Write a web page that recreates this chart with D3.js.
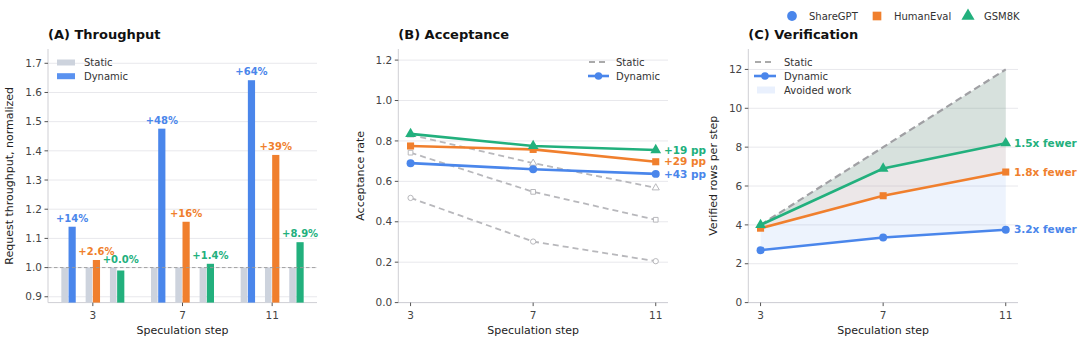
<!DOCTYPE html>
<html>
<head>
<meta charset="utf-8">
<script src="https://cdn.jsdelivr.net/npm/d3@7"></script>
<style>
  body { margin: 0; background: #fff; }
  svg { font-family: "DejaVu Sans", sans-serif; }
</style>
</head>
<body>
<div id="chart"></div>
<script>
// ---- data ----
const steps = [3, 7, 11];
const datasets = ["ShareGPT", "HumanEval", "GSM8K"];
const colors = ["#4a86eb", "#f07f2d", "#22b07d"];
const symbols = [d3.symbolCircle, d3.symbolSquare, d3.symbolTriangle];

// (A) throughput normalized to static
const throughputStatic = [[1, 1, 1], [1, 1, 1], [1, 1, 1]];
const throughputDynamic = [
  [1.14, 1.476, 1.642],   // ShareGPT
  [1.026, 1.157, 1.386],  // HumanEval
  [0.99, 1.013, 1.087]    // GSM8K
];
const throughputLabels = [
  ["+14%", "+48%", "+64%"],
  ["+2.6%", "+16%", "+39%"],
  ["+0.0%", "+1.4%", "+8.9%"]
];
const throughputTicks = [0.9, 1.0, 1.1, 1.2, 1.3, 1.4, 1.5, 1.6, 1.7];

// (B) acceptance rate
const acceptStatic = [
  [0.518, 0.302, 0.205],
  [0.742, 0.548, 0.41],
  [0.83, 0.69, 0.568]
];
const acceptDynamic = [
  [0.69, 0.66, 0.637],
  [0.775, 0.758, 0.697],
  [0.835, 0.775, 0.755]
];
const acceptLabels = ["+43 pp", "+29 pp", "+19 pp"];
const acceptTicks = [0.0, 0.2, 0.4, 0.6, 0.8, 1.0, 1.2];

// (C) verified rows per step
const verifyStatic = [4, 8, 12];
const verifyDynamic = [
  [2.7, 3.35, 3.75],
  [3.83, 5.5, 6.72],
  [4.0, 6.9, 8.2]
];
const verifyLabels = ["3.2x fewer", "1.8x fewer", "1.5x fewer"];
const verifyTicks = [0, 2, 4, 6, 8, 10, 12];

// ---- setup ----
const width = 1080, height = 344;
const svg = d3.select("#chart").append("svg")
  .attr("width", width).attr("height", height);

const plotBottom = 302.6, plotTop = 49;
const gridColor = "#e8e8ec", spineColor = "#cfcfd4", tickText = "#444";

function drawAxes(x0, x1, y, ticks, fmt, xTicks, yLabel, title, ylabX) {
  const g = svg.append("g");
  // grid
  g.selectAll(".grid").data(ticks).join("line")
    .attr("x1", x0).attr("x2", x1)
    .attr("y1", d => y(d)).attr("y2", d => y(d))
    .attr("stroke", gridColor).attr("stroke-width", 1);
  // spines
  g.append("line").attr("x1", x0).attr("x2", x0).attr("y1", plotTop).attr("y2", plotBottom)
    .attr("stroke", spineColor);
  g.append("line").attr("x1", x0).attr("x2", x1).attr("y1", plotBottom).attr("y2", plotBottom)
    .attr("stroke", spineColor);
  // y ticks
  g.selectAll(".yt").data(ticks).join("line")
    .attr("x1", x0 - 3.5).attr("x2", x0)
    .attr("y1", d => y(d)).attr("y2", d => y(d)).attr("stroke", "#555");
  g.selectAll(".yl").data(ticks).join("text")
    .attr("x", x0 - 6).attr("y", d => y(d)).attr("dy", "0.35em")
    .attr("text-anchor", "end").attr("font-size", 10.5).attr("fill", tickText)
    .text(fmt);
  // x ticks
  g.selectAll(".xt").data(xTicks).join("line")
    .attr("x1", d => d.x).attr("x2", d => d.x)
    .attr("y1", plotBottom).attr("y2", plotBottom + 3.5).attr("stroke", "#555");
  g.selectAll(".xl").data(xTicks).join("text")
    .attr("x", d => d.x).attr("y", plotBottom + 16)
    .attr("text-anchor", "middle").attr("font-size", 10.5).attr("fill", tickText)
    .text(d => d.v);
  g.append("text").attr("x", (x0 + x1) / 2).attr("y", 334)
    .attr("text-anchor", "middle").attr("font-size", 11).attr("fill", "#222")
    .text("Speculation step");
  g.append("text")
    .attr("transform", `translate(${ylabX},${(plotTop + plotBottom) / 2}) rotate(-90)`)
    .attr("text-anchor", "middle").attr("font-size", 11).attr("fill", "#222")
    .text(yLabel);
  g.append("text").attr("x", x0).attr("y", 39)
    .attr("font-size", 13).attr("font-weight", "bold").attr("fill", "#111")
    .text(title);
}

// ---- (A) Throughput ----
(function throughput() {
  const x0 = 48, x1 = 317;
  const x = d3.scalePoint().domain(steps).range([x0, x1]).padding(0.5);
  const y = d3.scaleLinear().domain([0.88, 1.75]).range([plotBottom, 48.7]);
  drawAxes(x0, x1, y, throughputTicks, d => d.toFixed(1),
    steps.map(s => ({ v: s, x: x(s) })),
    "Request throughput, normalized", "(A) Throughput", 13);

  const bw = 7.2, groupGap = 24.3;
  datasets.forEach((name, i) => {
    steps.forEach((s, j) => {
      const c = x(s) + (i - 1) * groupGap;
      const sv = throughputStatic[i][j], dv = throughputDynamic[i][j];
      svg.append("rect").attr("x", c - bw).attr("width", bw - 0.6)
        .attr("y", y(sv)).attr("height", plotBottom - y(sv)).attr("fill", "#cdd3dd");
      svg.append("rect").attr("x", c).attr("width", bw)
        .attr("y", y(dv)).attr("height", plotBottom - y(dv)).attr("fill", colors[i]);
      svg.append("text").attr("x", c + bw / 2).attr("y", y(Math.max(sv, dv)) - 5)
        .attr("text-anchor", "middle").attr("font-size", 10).attr("font-weight", "bold")
        .attr("fill", colors[i]).text(throughputLabels[i][j]);
    });
  });
  svg.append("line").attr("x1", x0).attr("x2", x1)
    .attr("y1", y(1)).attr("y2", y(1))
    .attr("stroke", "#999").attr("stroke-width", 0.9).attr("stroke-dasharray", "3.5,2.5");

  // legend
  const lg = svg.append("g");
  [["Static", "#cdd3dd"], ["Dynamic", "#5a92f0"]].forEach(([t, c], k) => {
    lg.append("rect").attr("x", 57).attr("y", 59.5 + k * 13.7).attr("width", 18).attr("height", 6).attr("fill", c);
    lg.append("text").attr("x", 84).attr("y", 62.5 + k * 13.7).attr("dy", "0.35em")
      .attr("font-size", 10).attr("fill", "#333").text(t);
  });
})();

function marker(g, sym, size, cx, cy, fill, stroke, sw) {
  g.append("path").attr("d", d3.symbol(sym, size)())
    .attr("transform", `translate(${cx},${cy})`)
    .attr("fill", fill).attr("stroke", stroke).attr("stroke-width", sw);
}

// ---- (B) Acceptance ----
(function acceptance() {
  const x0 = 398.3, x1 = 668;
  const x = d3.scaleLinear().domain([2.6, 11.4]).range([x0, x1]);
  const y = d3.scaleLinear().domain([0, 1.25]).range([plotBottom, 50]);
  drawAxes(x0, x1, y, acceptTicks, d => d.toFixed(1),
    steps.map(s => ({ v: s, x: x(s) })),
    "Acceptance rate", "(B) Acceptance", 364);

  const line = d3.line().x((d, j) => x(steps[j])).y(d => y(d));
  const g = svg.append("g");
  datasets.forEach((name, i) => {
    g.append("path").datum(acceptStatic[i]).attr("d", line)
      .attr("fill", "none").attr("stroke", "#b8b8bc").attr("stroke-width", 1.8)
      .attr("stroke-dasharray", "6,4");
    acceptStatic[i].forEach((v, j) => marker(g, symbols[i], 22, x(steps[j]), y(v), "#fff", "#b8b8bc", 1));
  });
  datasets.forEach((name, i) => {
    g.append("path").datum(acceptDynamic[i]).attr("d", line)
      .attr("fill", "none").attr("stroke", colors[i]).attr("stroke-width", 2.6);
    acceptDynamic[i].forEach((v, j) => marker(g, symbols[i], 50, x(steps[j]), y(v), colors[i], "none", 0));
    g.append("text").attr("x", 664).attr("y", y(acceptDynamic[i][2])).attr("dy", "0.35em")
      .attr("font-size", 10.5).attr("font-weight", "bold").attr("fill", colors[i])
      .text(acceptLabels[i]);
  });

  // legend
  const lg = svg.append("g");
  lg.append("line").attr("x1", 589).attr("x2", 609).attr("y1", 62).attr("y2", 62)
    .attr("stroke", "#aaa").attr("stroke-width", 1.8).attr("stroke-dasharray", "6,4");
  lg.append("text").attr("x", 616).attr("y", 62).attr("dy", "0.35em").attr("font-size", 10).attr("fill", "#333").text("Static");
  lg.append("line").attr("x1", 588).attr("x2", 609).attr("y1", 76).attr("y2", 76)
    .attr("stroke", colors[0]).attr("stroke-width", 2.6);
  marker(lg, d3.symbolCircle, 45, 598.5, 76, colors[0], "none", 0);
  lg.append("text").attr("x", 616).attr("y", 76).attr("dy", "0.35em").attr("font-size", 10).attr("fill", "#333").text("Dynamic");
})();

// ---- (C) Verification ----
(function verification() {
  const x0 = 748.3, x1 = 1018;
  const x = d3.scaleLinear().domain([2.6, 11.4]).range([x0, x1]);
  const y = d3.scaleLinear().domain([0, 13]).range([plotBottom, 50]);
  drawAxes(x0, x1, y, verifyTicks, d => d,
    steps.map(s => ({ v: s, x: x(s) })),
    "Verified rows per step", "(C) Verification", 717);

  const g = svg.append("g");
  datasets.forEach((name, i) => {
    const area = d3.area().x((d, j) => x(steps[j]))
      .y0(d => y(d)).y1((d, j) => y(verifyStatic[j]));
    g.append("path").datum(verifyDynamic[i]).attr("d", area)
      .attr("fill", colors[i]).attr("fill-opacity", 0.1);
  });
  const line = d3.line().x((d, j) => x(steps[j])).y(d => y(d));
  g.append("path").datum(verifyStatic).attr("d", line)
    .attr("fill", "none").attr("stroke", "#a0a0a4").attr("stroke-width", 2.2)
    .attr("stroke-dasharray", "7,4");
  datasets.forEach((name, i) => {
    g.append("path").datum(verifyDynamic[i]).attr("d", line)
      .attr("fill", "none").attr("stroke", colors[i]).attr("stroke-width", 2.6);
    verifyDynamic[i].forEach((v, j) => marker(g, symbols[i], 50, x(steps[j]), y(v), colors[i], "none", 0));
    g.append("text").attr("x", 1014).attr("y", y(verifyDynamic[i][2])).attr("dy", "0.35em")
      .attr("font-size", 10.5).attr("font-weight", "bold").attr("fill", colors[i])
      .text(verifyLabels[i]);
  });

  // legend
  const lg = svg.append("g");
  lg.append("line").attr("x1", 755).attr("x2", 775).attr("y1", 62).attr("y2", 62)
    .attr("stroke", "#aaa").attr("stroke-width", 1.8).attr("stroke-dasharray", "6,4");
  lg.append("text").attr("x", 784).attr("y", 62).attr("dy", "0.35em").attr("font-size", 10).attr("fill", "#333").text("Static");
  lg.append("line").attr("x1", 754).attr("x2", 776).attr("y1", 76).attr("y2", 76)
    .attr("stroke", colors[0]).attr("stroke-width", 2.6);
  marker(lg, d3.symbolCircle, 45, 765, 76, colors[0], "none", 0);
  lg.append("text").attr("x", 784).attr("y", 76).attr("dy", "0.35em").attr("font-size", 10).attr("fill", "#333").text("Dynamic");
  lg.append("rect").attr("x", 757).attr("y", 86.5).attr("width", 18).attr("height", 7)
    .attr("fill", colors[0]).attr("fill-opacity", 0.12);
  lg.append("text").attr("x", 784).attr("y", 90).attr("dy", "0.35em").attr("font-size", 10).attr("fill", "#333").text("Avoided work");
})();

// ---- top dataset legend ----
(function topLegend() {
  const xs = [792, 877, 968];
  const tx = [809, 894, 984];
  const g = svg.append("g");
  datasets.forEach((name, i) => {
    marker(g, symbols[i], 75, xs[i], 16, colors[i], "none", 0);
    g.append("text").attr("x", tx[i]).attr("y", 16).attr("dy", "0.35em")
      .attr("font-size", 10).attr("fill", "#333").text(name);
  });
})();
</script>
</body>
</html>
